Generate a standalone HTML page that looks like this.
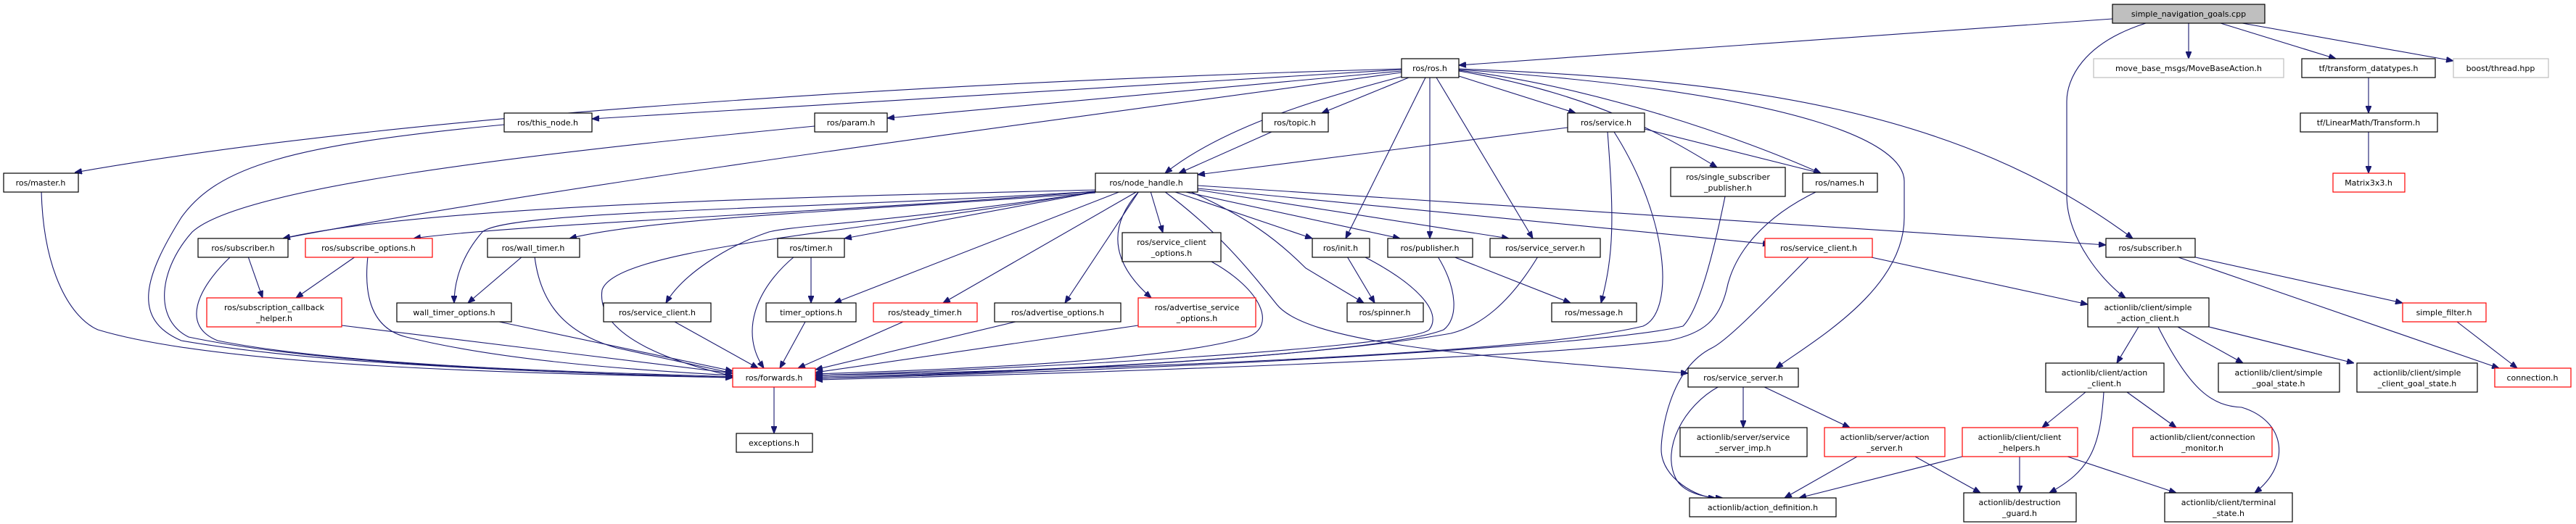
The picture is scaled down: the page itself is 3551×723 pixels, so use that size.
<!DOCTYPE html>
<html><head><meta charset="utf-8"><style>
html,body{margin:0;padding:0;background:#fff;}
svg{display:block;}
text{font-family:"DejaVu Sans","Liberation Sans",sans-serif;font-size:11px;fill:#000;text-anchor:middle;}
.n{fill:#fff;stroke:#000;stroke-width:1.2;}
.r{fill:#fff;stroke:#f00;stroke-width:1.2;}
.g{fill:#fff;stroke:#bfbfbf;stroke-width:1.2;}
.e{fill:none;stroke:#191970;stroke-width:1.1;marker-end:url(#a);}
</style></head><body>
<svg width="3551" height="723" viewBox="0 0 3551 723" xmlns="http://www.w3.org/2000/svg">
<defs><marker id="a" viewBox="0 0 10 8" refX="10" refY="4" markerWidth="10" markerHeight="8" markerUnits="userSpaceOnUse" orient="auto"><path d="M0,0 L10,4 L0,8 z" fill="#191970" stroke="#191970"/></marker></defs>
<g>
<!-- edges -->
<path class="e" d="M2912,26 L2011,90"/>
<path class="e" d="M3017,32 L3017,81"/>
<path class="e" d="M3061,32 L3220,81"/>
<path class="e" d="M3091,32 L3382,84"/>
<path class="e" d="M2958,32 C2870,60 2849,110 2849,140 L2849,270 C2849,330 2900,390 2930,411"/>
<path class="e" d="M3265,107 L3265,156"/>
<path class="e" d="M3265,182 L3265,239"/>
<path class="e" d="M1932,95 C1400,110 600,150 103,238"/>
<path class="e" d="M1932,96 L816,164"/>
<path class="e" d="M1932,98 L1223,163"/>
<path class="e" d="M1942,107 L1822,156"/>
<path class="e" d="M1935,105 C1800,140 1680,180 1606,239"/>
<path class="e" d="M1932,100 C1500,160 800,250 390,329"/>
<path class="e" d="M1965,107 L1855,329"/>
<path class="e" d="M1971,107 L1971,329"/>
<path class="e" d="M1980,107 L2113,329"/>
<path class="e" d="M2011,105 L2172,156"/>
<path class="e" d="M2011,98 C2200,130 2300,190 2367,231"/>
<path class="e" d="M2011,97 C2200,120 2400,190 2510,239"/>
<path class="e" d="M2011,96 C2500,130 2625,200 2625,250 L2625,300 C2625,400 2500,470 2448,508"/>
<path class="e" d="M2011,95 C2400,110 2700,150 2940,329"/>
<path class="e" d="M695,172 C400,200 300,230 250,300 C200,380 180,440 250,470 C450,505 800,515 1010,521"/>
<path class="e" d="M1123,174 C700,215 330,260 265,320 C220,370 210,440 260,465 C450,505 800,515 1010,521"/>
<path class="e" d="M57,264 C60,380 100,440 135,455 C300,505 700,515 1010,521"/>
<path class="e" d="M2161,176 L1651,241"/>
<path class="e" d="M2267,178 L2510,239"/>
<path class="e" d="M2216,182 C2225,300 2225,350 2207,418"/>
<path class="e" d="M2225,182 C2300,300 2310,430 2265,450 C2100,490 1500,510 1124,518"/>
<path class="e" d="M1753,182 L1625,239"/>
<path class="e" d="M1510,262 C1200,270 600,280 390,329"/>
<path class="e" d="M1510,264 C1200,290 700,310 570,329"/>
<path class="e" d="M1510,264 C1100,290 700,290 665,320 C630,360 626,400 626,418"/>
<path class="e" d="M1510,266 C1200,290 900,300 785,329"/>
<path class="e" d="M1510,265 C1200,310 1100,310 1060,320 C1000,340 940,380 918,418"/>
<path class="e" d="M1515,264 L1164,329"/>
<path class="e" d="M1545,264 L1150,418"/>
<path class="e" d="M1568,264 L1300,418"/>
<path class="e" d="M1570,264 L1468,418"/>
<path class="e" d="M1570,264 C1520,320 1540,370 1587,411"/>
<path class="e" d="M1586,264 L1603,321"/>
<path class="e" d="M1617,264 L1809,329"/>
<path class="e" d="M1630,264 L1930,329"/>
<path class="e" d="M1651,262 L2080,329"/>
<path class="e" d="M1651,260 L2440,337"/>
<path class="e" d="M1651,256 L2903,338"/>
<path class="e" d="M1640,264 C1720,300 1760,330 1800,370 L1880,418"/>
<path class="e" d="M1605,264 C1680,320 1720,370 1760,420 C1800,470 2000,490 2327,515"/>
<path class="e" d="M1510,264 C1200,320 850,340 830,400 C820,470 950,505 1010,519"/>
<path class="e" d="M342,354 L362,411"/>
<path class="e" d="M318,354 C270,400 250,450 300,470 C500,510 900,515 1010,520"/>
<path class="e" d="M490,354 L408,411"/>
<path class="e" d="M507,354 C500,420 520,455 560,465 C700,500 900,512 1010,518"/>
<path class="e" d="M471,449 L1010,515"/>
<path class="e" d="M720,354 L645,418"/>
<path class="e" d="M737,354 C745,420 780,460 850,480 L1010,515"/>
<path class="e" d="M688,444 L1010,512"/>
<path class="e" d="M930,444 L1045,508"/>
<path class="e" d="M1118,354 L1118,418"/>
<path class="e" d="M1095,354 C1040,400 1020,460 1053,508"/>
<path class="e" d="M1110,444 L1075,508"/>
<path class="e" d="M1245,444 L1100,508"/>
<path class="e" d="M1400,444 L1124,510"/>
<path class="e" d="M1569,449 L1124,514"/>
<path class="e" d="M1670,361 C1740,400 1760,450 1720,465 C1600,500 1300,510 1124,516"/>
<path class="e" d="M1857,354 L1895,418"/>
<path class="e" d="M1880,354 C1950,390 1990,430 1970,455 C1940,480 1400,510 1124,518"/>
<path class="e" d="M2003,354 L2165,418"/>
<path class="e" d="M1982,354 C2010,400 2010,440 1990,455 C1900,490 1400,515 1124,520"/>
<path class="e" d="M2120,354 C2080,420 2040,450 2000,460 C1800,495 1400,515 1124,522"/>
<path class="e" d="M2378,271 C2360,360 2340,430 2320,450 C2200,480 1500,515 1124,522"/>
<path class="e" d="M2505,264 C2430,300 2390,350 2380,400 C2370,440 2350,460 2300,470 C2100,495 1500,515 1124,524"/>
<path class="e" d="M1067,533 L1067,598"/>
<path class="e" d="M2575,354 L2878,420"/>
<path class="e" d="M2494,354 C2420,430 2380,470 2360,480 C2300,510 2290,600 2290,620 C2290,660 2340,687 2365,687"/>
<path class="e" d="M2403,533 L2403,590"/>
<path class="e" d="M2430,533 L2550,590"/>
<path class="e" d="M2370,533 C2320,560 2290,620 2310,660 C2320,680 2350,687 2375,687"/>
<path class="e" d="M2560,630 L2460,687"/>
<path class="e" d="M2640,630 L2730,680"/>
<path class="e" d="M2705,630 L2480,687"/>
<path class="e" d="M2784,630 L2784,680"/>
<path class="e" d="M2850,630 L3000,680"/>
<path class="e" d="M2875,541 L2815,590"/>
<path class="e" d="M2900,541 C2895,620 2880,650 2825,680"/>
<path class="e" d="M2932,541 L3000,590"/>
<path class="e" d="M2948,451 L2918,501"/>
<path class="e" d="M3002,451 L3092,501"/>
<path class="e" d="M3045,451 L3245,501"/>
<path class="e" d="M2975,451 C3020,540 3050,560 3090,562 C3150,580 3160,640 3108,680"/>
<path class="e" d="M3022,354 L3312,418"/>
<path class="e" d="M3000,354 L3445,508"/>
<path class="e" d="M3387,444 L3470,508"/>
</g>
<g>
<!-- nodes -->
<rect x="2912" y="6" width="210" height="26" fill="#bfbfbf" stroke="#000" stroke-width="1.2"/><text x="3017" y="23">simple_navigation_goals.cpp</text>
<rect class="g" x="2886" y="81" width="262" height="26"/><text x="3017" y="98">move_base_msgs/MoveBaseAction.h</text>
<rect class="n" x="3173" y="81" width="184" height="26"/><text x="3265" y="98">tf/transform_datatypes.h</text>
<rect class="g" x="3382" y="81" width="131" height="26"/><text x="3447" y="98">boost/thread.hpp</text>
<rect class="n" x="3171" y="156" width="189" height="26"/><text x="3265" y="173">tf/LinearMath/Transform.h</text>
<rect class="r" x="3216" y="239" width="99" height="26"/><text x="3265" y="256">Matrix3x3.h</text>
<rect class="n" x="1932" y="81" width="79" height="26"/><text x="1971" y="98">ros/ros.h</text>
<rect class="n" x="695" y="156" width="121" height="26"/><text x="755" y="173">ros/this_node.h</text>
<rect class="n" x="1123" y="156" width="100" height="26"/><text x="1173" y="173">ros/param.h</text>
<rect class="n" x="1740" y="156" width="91" height="26"/><text x="1785" y="173">ros/topic.h</text>
<rect class="n" x="2161" y="156" width="106" height="26"/><text x="2214" y="173">ros/service.h</text>
<rect class="n" x="5" y="239" width="103" height="26"/><text x="56" y="256">ros/master.h</text>
<rect class="n" x="1510" y="239" width="141" height="26"/><text x="1580" y="256">ros/node_handle.h</text>
<rect class="n" x="2303" y="231" width="158" height="40"/><text x="2382" y="248">ros/single_subscriber</text><text x="2382" y="263">_publisher.h</text>
<rect class="n" x="2485" y="239" width="103" height="26"/><text x="2536" y="256">ros/names.h</text>
<rect class="n" x="273" y="329" width="124" height="26"/><text x="335" y="346">ros/subscriber.h</text>
<rect class="r" x="421" y="329" width="175" height="26"/><text x="508" y="346">ros/subscribe_options.h</text>
<rect class="n" x="672" y="329" width="127" height="26"/><text x="735" y="346">ros/wall_timer.h</text>
<rect class="n" x="1072" y="329" width="92" height="26"/><text x="1118" y="346">ros/timer.h</text>
<rect class="n" x="1547" y="321" width="136" height="40"/><text x="1615" y="338">ros/service_client</text><text x="1615" y="353">_options.h</text>
<rect class="n" x="1809" y="329" width="79" height="26"/><text x="1848" y="346">ros/init.h</text>
<rect class="n" x="1913" y="329" width="117" height="26"/><text x="1971" y="346">ros/publisher.h</text>
<rect class="n" x="2054" y="329" width="152" height="26"/><text x="2130" y="346">ros/service_server.h</text>
<rect class="r" x="2433" y="329" width="148" height="26"/><text x="2507" y="346">ros/service_client.h</text>
<rect class="n" x="2903" y="329" width="123" height="26"/><text x="2964" y="346">ros/subscriber.h</text>
<rect class="r" x="285" y="411" width="186" height="40"/><text x="378" y="428">ros/subscription_callback</text><text x="378" y="443">_helper.h</text>
<rect class="n" x="547" y="418" width="158" height="26"/><text x="626" y="435">wall_timer_options.h</text>
<rect class="n" x="832" y="418" width="148" height="26"/><text x="906" y="435">ros/service_client.h</text>
<rect class="n" x="1056" y="418" width="124" height="26"/><text x="1118" y="435">timer_options.h</text>
<rect class="r" x="1204" y="418" width="143" height="26"/><text x="1275" y="435">ros/steady_timer.h</text>
<rect class="n" x="1371" y="418" width="174" height="26"/><text x="1458" y="435">ros/advertise_options.h</text>
<rect class="r" x="1569" y="411" width="162" height="40"/><text x="1650" y="428">ros/advertise_service</text><text x="1650" y="443">_options.h</text>
<rect class="n" x="1857" y="418" width="105" height="26"/><text x="1909" y="435">ros/spinner.h</text>
<rect class="n" x="2139" y="418" width="117" height="26"/><text x="2197" y="435">ros/message.h</text>
<rect class="n" x="2878" y="411" width="167" height="40"/><text x="2961" y="428">actionlib/client/simple</text><text x="2961" y="443">_action_client.h</text>
<rect class="r" x="3312" y="418" width="115" height="26"/><text x="3369" y="435">simple_filter.h</text>
<rect class="r" x="1010" y="508" width="114" height="26"/><text x="1067" y="525">ros/forwards.h</text>
<rect class="n" x="2327" y="508" width="152" height="26"/><text x="2403" y="525">ros/service_server.h</text>
<rect class="n" x="2820" y="501" width="163" height="40"/><text x="2901" y="518">actionlib/client/action</text><text x="2901" y="533">_client.h</text>
<rect class="n" x="3058" y="501" width="167" height="40"/><text x="3141" y="518">actionlib/client/simple</text><text x="3141" y="533">_goal_state.h</text>
<rect class="n" x="3249" y="501" width="166" height="40"/><text x="3332" y="518">actionlib/client/simple</text><text x="3332" y="533">_client_goal_state.h</text>
<rect class="r" x="3439" y="508" width="105" height="26"/><text x="3491" y="525">connection.h</text>
<rect class="n" x="1015" y="598" width="105" height="26"/><text x="1067" y="615">exceptions.h</text>
<rect class="n" x="2316" y="590" width="175" height="40"/><text x="2403" y="607">actionlib/server/service</text><text x="2403" y="622">_server_imp.h</text>
<rect class="r" x="2515" y="590" width="166" height="40"/><text x="2598" y="607">actionlib/server/action</text><text x="2598" y="622">_server.h</text>
<rect class="r" x="2705" y="590" width="159" height="40"/><text x="2784" y="607">actionlib/client/client</text><text x="2784" y="622">_helpers.h</text>
<rect class="r" x="2940" y="590" width="192" height="40"/><text x="3036" y="607">actionlib/client/connection</text><text x="3036" y="622">_monitor.h</text>
<rect class="n" x="2329" y="687" width="202" height="26"/><text x="2430" y="704">actionlib/action_definition.h</text>
<rect class="n" x="2707" y="680" width="155" height="40"/><text x="2784" y="697">actionlib/destruction</text><text x="2784" y="712">_guard.h</text>
<rect class="n" x="2984" y="680" width="176" height="40"/><text x="3072" y="697">actionlib/client/terminal</text><text x="3072" y="712">_state.h</text>
</g>
</svg>
</body></html>
